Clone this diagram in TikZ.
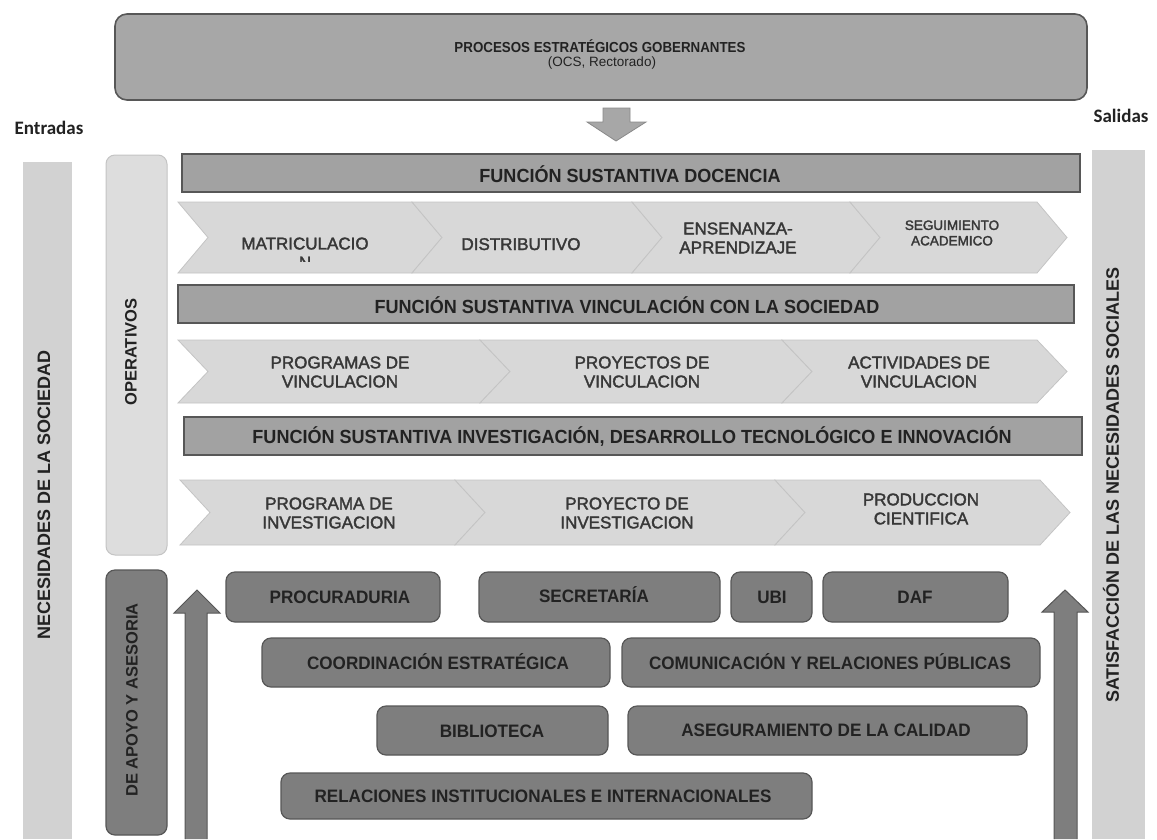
\documentclass[tikz,border=0pt]{standalone}
\usepackage{fontspec}
\setmainfont{Liberation Sans}
\newfontfamily\condf[FakeStretch=0.95]{Liberation Sans}
\newfontfamily\titf[FakeStretch=0.92]{Liberation Sans}
\newfontfamily\chevf[FakeBold=2]{Liberation Sans}
\newfontfamily\calf{Carlito}
\definecolor{topfill}{HTML}{A7A7A7}
\definecolor{barfill}{HTML}{A2A2A2}
\definecolor{edge}{HTML}{575757}
\definecolor{chevfill}{HTML}{D8D8D8}
\definecolor{chevedge}{HTML}{C4C4C4}
\definecolor{sidefill}{HTML}{D2D2D2}
\definecolor{opfill}{HTML}{DDDDDD}
\definecolor{darkfill}{HTML}{7E7E7E}
\definecolor{txtdark}{HTML}{222222}
\definecolor{txtmid}{HTML}{383838}
\tikzset{
  topbox/.style={draw=edge, line width=1.6pt, fill=topfill, rounded corners=12pt},
  fbar/.style={draw=edge, line width=1.2pt, fill=barfill},
  flabel/.style={font=\condf\bfseries\fontsize{19}{21}\selectfont, text=txtdark, inner sep=0pt},
  chev/.style={fill=chevfill, draw=chevedge, line width=0.8pt},
  ctext/.style={font=\chevf\fontsize{17}{19}\selectfont, text=txtmid, align=center, inner sep=0pt},
  sidebar/.style={fill=sidefill, draw=none},
  opbox/.style={fill=opfill, draw=chevedge, line width=1pt, rounded corners=9pt},
  dbox/.style={fill=darkfill, draw=edge, line width=1.2pt, rounded corners=9pt},
  dtext/.style={font=\condf\bfseries\fontsize{18}{20}\selectfont, text=txtdark, inner sep=0pt},
  vtext/.style={font=\bfseries\fontsize{18}{20}\selectfont, text=txtdark, rotate=90, inner sep=0pt},
  blockarrow/.style={fill=darkfill, draw=edge, line width=1pt},
}
\newcommand\chevshape[4]{(#1,#3) -- (#2,#3) -- ({#2+30},{(#3+#4)/2}) -- (#2,#4) -- (#1,#4) -- ({#1+30},{(#3+#4)/2}) -- cycle}
\begin{document}
\begin{tikzpicture}[x=1pt,y=-1pt]
\useasboundingbox[fill=white] (0,0) rectangle (1157,839);

% top box
\path[topbox] (115,14) rectangle (1087,100);
\node[font=\titf\bfseries\fontsize{14.5}{17}\selectfont, text=txtdark, inner sep=0pt] (title) at (600,46) {PROCESOS ESTRATÉGICOS GOBERNANTES};
\node[font=\fontsize{13.5}{16}\selectfont, text=txtdark, inner sep=0pt] (sub) at (602,63) {(OCS, Rectorado)};

\node[font=\calf\bfseries\fontsize{19}{21}\selectfont, text=txtdark, inner sep=0pt] (entr) at (49,128) {Entradas};
\node[font=\calf\bfseries\fontsize{19}{21}\selectfont, text=txtdark, inner sep=0pt] (sal) at (1121,116) {Salidas};

% down arrow
\filldraw[fill=topfill, draw=edge!70, line width=0.8pt] (603,108) -- (630,108) -- (630,122) -- (646,122) -- (616,141) -- (587,122) -- (603,122) -- cycle;

% side bars
\path[sidebar] (23,162) rectangle (72,839);
\node[vtext] (nec) at (44,495) {NECESIDADES DE LA SOCIEDAD};
\path[sidebar] (1092,150) rectangle (1145,839);
\node[vtext] (sat) at (1111,485) {SATISFACCIÓN DE LAS NECESIDADES SOCIALES};

% operativos
\path[opbox] (106,155) rectangle (167,555);
\node[vtext, font=\bfseries\fontsize{16.5}{18}\selectfont] (oper) at (131,352) {OPERATIVOS};

% apoyo
\path[dbox] (106,570) rectangle (167,835);
\node[vtext, font=\bfseries\fontsize{16.5}{18}\selectfont] (apoyo) at (132,700) {DE APOYO Y ASESORIA};

% function bars
\path[fbar] (182,154) rectangle (1080,192);
\node[flabel] (doc) at (630,174) {FUNCIÓN SUSTANTIVA DOCENCIA};
\path[fbar] (178,285) rectangle (1074,323);
\node[flabel] (vin) at (627,305) {FUNCIÓN SUSTANTIVA VINCULACIÓN CON LA SOCIEDAD};
\path[fbar] (184,417) rectangle (1082,455);
\node[flabel] (inv) at (632,437) {FUNCIÓN SUSTANTIVA INVESTIGACIÓN, DESARROLLO TECNOLÓGICO E INNOVACIÓN};

% chevron row 1
\filldraw[chev] \chevshape{178}{412}{202}{273};
\filldraw[chev] \chevshape{412}{632}{202}{273};
\filldraw[chev] \chevshape{632}{850}{202}{273};
\filldraw[chev] \chevshape{850}{1037}{202}{273};
\begin{scope}
  \clip (200,202) rectangle (412,261);
  \node[ctext] (mat) at (305,253) {MATRICULACIO\\N};
\end{scope}
\node[ctext, anchor=base] (dis) at (521,250) {DISTRIBUTIVO};
\node[ctext] (ens) at (738,238) {ENSENANZA-\\APRENDIZAJE};
\node[ctext, font=\chevf\fontsize{13.5}{15.5}\selectfont] (seg) at (952,233) {SEGUIMIENTO\\ACADEMICO};

% chevron row 2
\filldraw[chev] \chevshape{178}{480}{340}{403};
\filldraw[chev] \chevshape{480}{782}{340}{403};
\filldraw[chev] \chevshape{782}{1037}{340}{403};
\node[ctext] (pv) at (340,372) {PROGRAMAS DE\\VINCULACION};
\node[ctext] (prv) at (642,372) {PROYECTOS DE\\VINCULACION};
\node[ctext] (av) at (919,372) {ACTIVIDADES DE\\VINCULACION};

% chevron row 3
\filldraw[chev] \chevshape{180}{455}{480}{545};
\filldraw[chev] \chevshape{455}{775}{480}{545};
\filldraw[chev] \chevshape{775}{1040}{480}{545};
\node[ctext] (pi) at (329,513) {PROGRAMA DE\\INVESTIGACION};
\node[ctext] (pri) at (627,513) {PROYECTO DE\\INVESTIGACION};
\node[ctext] (pc) at (921,509) {PRODUCCION\\CIENTIFICA};

% up arrows
\filldraw[blockarrow] (185,839) -- (185,613) -- (174,613) -- (197,590) -- (220,613) -- (207,613) -- (207,839);
\filldraw[blockarrow] (1054,839) -- (1054,612) -- (1042,612) -- (1065,590) -- (1088,612) -- (1077,612) -- (1077,839);

% support boxes
\path[dbox] (226,572) rectangle (440,622);
\node[dtext] (proc) at (340,597) {PROCURADURIA};
\path[dbox] (479,572) rectangle (720,622);
\node[dtext] (secr) at (594,595) {SECRETARÍA};
\path[dbox] (731,572) rectangle (812,622);
\node[dtext] (ubi) at (772,597) {UBI};
\path[dbox] (823,572) rectangle (1008,622);
\node[dtext] (daf) at (915,597) {DAF};

\path[dbox] (262,638) rectangle (610,687);
\node[dtext] (coord) at (438,662) {COORDINACIÓN ESTRATÉGICA};
\path[dbox] (622,638) rectangle (1040,687);
\node[dtext] (comu) at (830,662) {COMUNICACIÓN Y RELACIONES PÚBLICAS};

\path[dbox] (377,706) rectangle (608,755);
\node[dtext] (bibl) at (492,731) {BIBLIOTECA};
\path[dbox] (628,706) rectangle (1027,755);
\node[dtext] (aseg) at (826,730) {ASEGURAMIENTO DE LA CALIDAD};

\path[dbox] (281,773) rectangle (812,819);
\node[dtext] (rel) at (543,796) {RELACIONES INSTITUCIONALES E INTERNACIONALES};
\end{tikzpicture}
\end{document}
